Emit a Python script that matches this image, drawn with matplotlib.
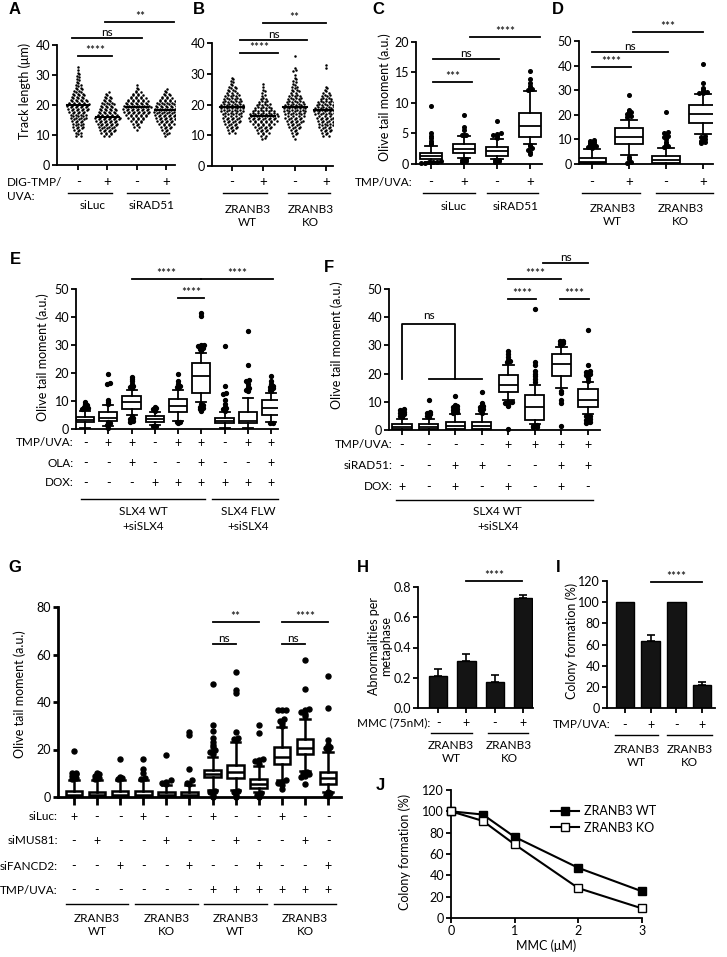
import numpy as np
import matplotlib
matplotlib.use('Agg')
import matplotlib.pyplot as plt
from matplotlib.transforms import blended_transform_factory
from matplotlib.lines import Line2D

plt.rcParams['font.family'] = ['Lato', 'DejaVu Sans']

# ---------------- DATA ----------------
# Panel A / B : track length swarm (counts per 1-um bin, first bin value)
A_start = [10, 10, 12, 10]
A_counts = [
    [3, 3, 4, 5, 5, 6, 7, 7, 8, 9, 10, 8, 7, 6, 5, 4, 3, 3, 2, 2, 2, 1, 1, 1],
    [4, 6, 7, 8, 9, 10, 11, 9, 8, 7, 6, 5, 4, 3, 2],
    [1, 3, 4, 6, 8, 10, 11, 12, 11, 10, 8, 6, 4, 2, 1, 1],
    [2, 3, 4, 5, 7, 8, 9, 10, 11, 10, 9, 8, 6, 4, 3, 2],
]
A_means = [20.0, 16.0, 19.3, 18.2]
B_start = [11, 9, 9, 10]
B_counts = [
    [3, 4, 5, 6, 7, 8, 8, 9, 9, 9, 8, 7, 6, 5, 4, 3, 2, 2, 1],
    [2, 3, 5, 6, 7, 9, 11, 12, 11, 9, 7, 6, 4, 3, 2, 2, 1, 1, 1],
    [1, 2, 3, 4, 5, 6, 7, 8, 8, 9, 9, 8, 7, 6, 5, 4, 3, 3, 2, 2, 1, 1, 2, 1, 0, 0, 0, 1],
    [3, 4, 5, 6, 6, 7, 8, 9, 10, 9, 8, 7, 5, 4, 3, 2, 1, 0, 0, 0, 0, 0, 1, 1],
]
B_means = [19.2, 16.2, 19.3, 18.2]
AB_treat = ['-', '+', '-', '+']

# Panel C: box stats (whislo, q1, med, q3, whishi) and outliers
C_stats = [(0.3, 0.9, 1.3, 1.8, 2.9), (1.0, 1.8, 2.4, 3.3, 4.6),
           (0.8, 1.3, 2.1, 2.8, 4.1), (3.2, 4.4, 6.3, 8.4, 12.0)]
C_fliers = [[3.2, 3.5, 3.8, 4.2, 4.6, 5.0, 9.5, 0.2, 0.2, 0.3, 0.3, 0.4, 0.5],
            [4.7, 4.7, 4.8, 5.5, 6.0, 8.0, 0.3, 0.5, 0.7, 0.8, 0.9],
            [4.3, 4.6, 4.8, 4.9, 5.0, 7.0, 0.3, 0.5, 0.6, 0.7],
            [12.1, 12.3, 12.5, 12.8, 13.2, 14.0, 15.2, 1.7, 2.0, 2.3, 2.6, 2.9, 3.1]]

# Panel D
D_stats = [(0.0, 0.3, 1.0, 2.5, 6.0), (3.5, 8.0, 11.0, 14.5, 18.0),
           (0.0, 0.5, 1.5, 3.2, 6.5), (12.0, 16.5, 20.3, 24.0, 28.5)]
D_fliers = [[6.5, 7.0, 7.2, 7.5, 8.0, 8.3, 8.5, 9.0, 9.5, 9.8],
            [19.0, 19.5, 20.0, 20.5, 21.0, 21.5, 22.0, 28.0, 0.5, 1.0, 2.0, 3.0],
            [7.0, 7.5, 8.0, 9.0, 10.0, 10.5, 11.0, 11.5, 12.0, 12.5, 13.0, 21.0],
            [28.7, 29.0, 29.2, 29.5, 30.0, 31.0, 33.0, 40.5, 8.5, 9.0, 9.5, 10.0, 10.5, 11.0, 11.5]]

# Panel E
E_stats = [(0.5, 2.5, 3.2, 4.2, 6.5), (1.0, 2.8, 4.0, 6.0, 8.5), (5.0, 7.0, 9.5, 11.8, 14.0),
           (1.5, 2.5, 3.5, 4.5, 6.0), (3.0, 6.0, 8.2, 10.8, 14.0), (9.5, 13.0, 19.0, 23.5, 27.0),
           (0.5, 2.0, 3.0, 4.0, 6.0), (0.5, 2.0, 3.0, 6.0, 11.0), (2.5, 5.0, 7.5, 10.3, 13.0)]
E_fliers = [[7.0, 7.5, 7.5, 8.0, 8.5, 9.0, 9.5],
            [8.8, 9.5, 10.5, 16.0, 16.5, 19.5, 0.5, 1.5, 2.0, 2.5],
            [14.5, 15.0, 15.5, 16.0, 17.0, 18.0, 18.5, 2.5, 3.0, 3.5, 4.0, 4.5],
            [6.5, 7.0, 7.5, 8.0, 1.0, 1.2],
            [14.5, 15.0, 15.5, 16.0, 17.0, 19.5, 2.0, 2.5, 2.5],
            [28.0, 28.5, 29.0, 29.5, 30.0, 30.0, 40.5, 41.5, 6.5, 7.0, 7.5, 8.0, 8.5, 9.0],
            [6.5, 7.0, 7.5, 8.0, 9.0, 10.5, 12.5, 13.0, 15.5, 29.5],
            [13.5, 14.0, 14.5, 15.0, 16.0, 17.0, 17.5, 23.0, 35.0],
            [13.5, 14.0, 14.5, 15.0, 15.5, 16.0, 17.0, 19.0, 2.0, 2.2]]
E_tmp = ['-', '+', '+', '-', '+', '+', '-', '+', '+']
E_ola = ['-', '-', '+', '-', '-', '+', '-', '-', '+']
E_dox = ['-', '-', '-', '+', '+', '+', '+', '+', '+']

# Panel F
F_stats = [(0.0, 0.3, 1.0, 2.0, 4.0), (0.0, 0.3, 1.0, 2.0, 4.0), (0.0, 0.5, 1.5, 3.0, 5.5),
           (0.0, 0.5, 1.5, 3.0, 5.5), (10.5, 13.5, 16.0, 19.5, 23.0), (2.0, 3.5, 8.0, 12.5, 16.0),
           (15.0, 19.0, 23.5, 27.0, 29.5), (5.5, 8.0, 10.5, 14.5, 17.0)]
F_fliers = [[4.5, 5.0, 5.5, 6.0, 6.5, 7.0, 7.5],
            [4.5, 5.0, 5.5, 6.0, 6.5, 10.5],
            [6.0, 6.5, 7.0, 7.5, 8.0, 8.5, 9.0, 12.0],
            [6.0, 7.0, 7.5, 8.0, 8.5, 9.0, 9.5, 13.5],
            [24.0, 24.5, 25.0, 26.0, 27.0, 28.0, 8.5, 9.0, 9.5, 10.0, 10.0, 0.5],
            [17.0, 18.0, 19.0, 20.0, 21.0, 23.0, 24.0, 43.0, 1.0, 1.2, 1.5, 1.8],
            [30.0, 30.5, 31.0, 31.5, 31.5, 14.0, 13.0, 10.5, 9.5, 1.5],
            [17.5, 18.5, 19.5, 20.0, 20.5, 21.0, 23.0, 35.5, 2.5, 3.0, 3.5, 4.0, 4.5, 5.0, 5.0]]
F_tmp = ['-', '-', '-', '-', '+', '+', '+', '+']
F_rad = ['-', '-', '+', '+', '-', '-', '+', '+']
F_dox = ['+', '-', '+', '-', '+', '-', '+', '-']

# Panel G
G_stats = [(0, 0.3, 1, 2.5, 7), (0, 0.3, 1, 2, 7), (0, 0.3, 1, 2.5, 7), (0, 0.3, 1, 2.5, 7),
           (0, 0.3, 1, 2, 5), (0, 0.3, 1, 2, 5), (3, 8.5, 9.5, 11.5, 17), (3, 8, 10.5, 13.5, 23),
           (2, 4, 5.5, 7.5, 13), (7, 14, 17, 21, 29.5), (11, 18, 20.5, 24.5, 33), (2, 5.5, 8, 10.5, 19)]
G_fliers = [[7.5, 8, 9, 9.5, 10, 10, 19.5],
            [7.5, 8, 9, 9.5, 10],
            [7.5, 8, 8.5, 16],
            [7.5, 8, 10, 12, 16],
            [5.5, 6, 6.5, 7, 17.5],
            [5.5, 6, 7, 12, 26, 27.5],
            [18, 19, 20, 21, 22, 23, 25, 28, 30.5, 47.5, 0, 1, 2, 2.5],
            [24, 24.5, 25, 27.5, 44, 45, 52.5, 0, 1, 2, 2.5],
            [14, 15, 15.5, 16, 27, 30.5, 0, 1, 1.5],
            [30, 31, 32, 33, 36.5, 36.5, 36.5, 3.5, 5, 6, 6.5, 7],
            [34, 35, 36, 36.5, 37, 45.5, 57.5, 5.5, 8.5, 9, 9.5, 10, 10.5],
            [20, 20.5, 21, 22, 24, 37.5, 51, 0.5, 1, 1.5, 2]]
G_luc = ['+', '-', '-', '+', '-', '-', '+', '-', '-', '+', '-', '-']
G_mus = ['-', '+', '-', '-', '+', '-', '-', '+', '-', '-', '+', '-']
G_fan = ['-', '-', '+', '-', '-', '+', '-', '-', '+', '-', '-', '+']
G_tmp = ['-', '-', '-', '-', '-', '-', '+', '+', '+', '+', '+', '+']

# Panel H / I bars
H_vals = [0.21, 0.31, 0.17, 0.73]
H_err = [0.05, 0.05, 0.05, 0.02]
I_vals = [100, 63, 100, 22]
I_err = [0, 6, 0, 3]
HI_treat = ['-', '+', '-', '+']

# Panel J
J_mmc = [0, 0.5, 1, 2, 3]
J_wt = [100, 97, 76, 47, 25]
J_ko = [100, 91, 69, 28, 9]

# ---------------- LAYOUT HELPERS ----------------
W, H = 727, 957
fig = plt.figure(figsize=(W / 100, H / 100), dpi=100)
LW = 1.3
FT = 9      # tick labels
FL = 9      # axis labels
FR = 8.5    # row labels
FG = 8.5    # group labels
FPM = 9     # +/- signs


def add_ax(l, t, r, b):
    return fig.add_axes([l / W, 1 - b / H, (r - l) / W, (b - t) / H])


def style(ax, lw=LW, fs=FT):
    for s in ['top', 'right']:
        ax.spines[s].set_visible(False)
    for s in ['left', 'bottom']:
        ax.spines[s].set_linewidth(lw)
    ax.tick_params(width=lw, length=3.5, labelsize=fs, pad=1.5)
    ax.patch.set_alpha(0)


def ftext(x, y, s, **kw):
    kw.setdefault('va', 'center')
    fig.text(x / W, 1 - y / H, s, **kw)


def ctext(ax, x, y, s, fs=FG, **kw):
    tr = blended_transform_factory(ax.transData, fig.transFigure)
    ax.text(x, 1 - y / H, s, transform=tr, ha='center', va='center', fontsize=fs,
            clip_on=False, **kw)


def cline(ax, x0, x1, y, lw=1.0):
    tr = blended_transform_factory(ax.transData, fig.transFigure)
    ax.add_line(Line2D([x0, x1], [1 - y / H] * 2, transform=tr, color='k', lw=lw,
                       clip_on=False))


def sig(ax, x0, x1, y, label, fs=8.5):
    ax.plot([x0, x1], [y, y], color='k', lw=LW, clip_on=False)
    ax.text((x0 + x1) / 2, y, label, ha='center', va='bottom', fontsize=fs, clip_on=False)


def spread(vals, binsize, step):
    vals = np.asarray(vals, float)
    keys = np.round(vals / binsize).astype(int)
    offs = np.zeros(len(vals))
    for k in np.unique(keys):
        idx = np.where(keys == k)[0]
        n = len(idx)
        offs[idx] = (np.arange(n) - (n - 1) / 2) * step
    return offs


def boxes(ax, stats, fliers, width, lw, ms, binsize, step):
    st = [dict(whislo=s[0], q1=s[1], med=s[2], q3=s[3], whishi=s[4], fliers=[]) for s in stats]
    pos = list(range(1, len(st) + 1))
    ax.bxp(st, positions=pos, widths=width, showfliers=False, patch_artist=True,
           boxprops=dict(facecolor='white', edgecolor='k', lw=lw),
           medianprops=dict(color='k', lw=lw), whiskerprops=dict(color='k', lw=lw),
           capprops=dict(color='k', lw=lw), capwidths=width * 0.55, manage_ticks=False)
    for i, fl in enumerate(fliers):
        xo = spread(fl, binsize, step)
        ax.plot(i + 1 + xo, fl, 'o', color='k', ms=ms, ls='none', clip_on=False, zorder=3)


def swarm(ax, pos, start, counts, dx=0.085):
    xs, ys = [], []
    for j, n in enumerate(counts):
        v = start + j
        for k in range(n):
            xs.append(pos + (k - (n - 1) / 2) * dx)
            ys.append(v + (0.25 if k % 2 else -0.25))
    ax.plot(xs, ys, 'o', ms=1.8, color='k', ls='none', mew=0)


def letter(x, y, s):
    ftext(x, y, s, ha='center', fontsize=12, fontweight='bold', family='Liberation Sans')


# ---------------- PANEL A ----------------
axA = add_ax(57, 45, 175, 165)
style(axA)
for i in range(4):
    swarm(axA, i + 1, A_start[i], A_counts[i])
    axA.plot([i + 1 - 0.38, i + 1 + 0.38], [A_means[i]] * 2, color='k', lw=1.5)
axA.set_xlim(0.28, 4.3)
axA.set_ylim(0, 40)
axA.set_yticks([0, 10, 20, 30, 40])
axA.set_xticks([1, 2, 3, 4])
axA.set_xticklabels([])
sig(axA, 1.0, 2.14, 36.3, '****')
sig(axA, 0.79, 3.17, 42.3, 'ns')
sig(axA, 1.93, 4.28, 47.7, '**')
for i, t in enumerate(AB_treat):
    ctext(axA, i + 1, 182, t, fs=FPM + 0.5)
ftext(7, 182, 'DIG-TMP/', fontsize=FR)
ftext(7, 196, 'UVA:', fontsize=FR)
cline(axA, 0.67, 2.17, 193)
cline(axA, 2.67, 4.1, 193)
ctext(axA, 1.5, 206, 'siLuc')
ctext(axA, 3.5, 206, 'siRAD51')
ftext(25, 91, 'Track length (\u03bcm)', rotation=90, ha='center', fontsize=FL)

# ---------------- PANEL B ----------------
axB = add_ax(212, 43, 333, 166)
style(axB)
for i in range(4):
    swarm(axB, i + 1, B_start[i], B_counts[i])
    axB.plot([i + 1 - 0.38, i + 1 + 0.38], [B_means[i]] * 2, color='k', lw=1.5)
axB.set_xlim(0.36, 4.22)
axB.set_ylim(0, 40)
axB.set_yticks([0, 10, 20, 30, 40])
axB.set_xticks([1, 2, 3, 4])
axB.set_xticklabels([])
sig(axB, 1.26, 2.45, 36.7, '****')
sig(axB, 1.26, 3.39, 41.0, 'ns')
sig(axB, 2.0, 4.0, 46.5, '**')
for i, t in enumerate(AB_treat):
    ctext(axB, i + 1, 182, t, fs=FPM + 0.5)
cline(axB, 0.7, 2.13, 193)
cline(axB, 2.8, 4.13, 193)
ctext(axB, 1.5, 216, 'ZRANB3\nWT', linespacing=1.3)
ctext(axB, 3.5, 216, 'ZRANB3\nKO', linespacing=1.3)

# ---------------- PANEL C ----------------
axC = add_ax(416, 42, 542, 164)
style(axC)
boxes(axC, C_stats, C_fliers, 0.65, LW, 2.6, 0.35, 0.12)
axC.set_xlim(0.55, 4.36)
axC.set_ylim(0, 20)
axC.set_yticks([0, 5, 10, 15, 20])
axC.set_xticks([1, 2, 3, 4])
axC.set_xticklabels([])
sig(axC, 1.06, 2.24, 13.4, '***')
sig(axC, 1.06, 3.06, 17.2, 'ns')
sig(axC, 2.18, 4.3, 20.8, '****')
ftext(413, 182, 'TMP/UVA:', ha='right', fontsize=FR)
for i, t in enumerate(AB_treat):
    ctext(axC, i + 1, 182, t, fs=FPM + 0.5)
cline(axC, 0.76, 2.33, 193)
cline(axC, 2.7, 4.24, 193)
ctext(axC, 1.7, 207, 'siLuc')
ctext(axC, 3.55, 207, 'siRAD51')
ftext(385, 97, 'Olive tail moment (a.u.)', rotation=90, ha='center', fontsize=FL)

# ---------------- PANEL D ----------------
axD = add_ax(579, 41, 713, 164)
style(axD)
boxes(axD, D_stats, D_fliers, 0.75, LW, 2.6, 0.8, 0.12)
axD.set_xlim(0.65, 4.27)
axD.set_ylim(0, 50)
axD.set_yticks([0, 10, 20, 30, 40, 50])
axD.set_xticks([1, 2, 3, 4])
axD.set_xticklabels([])
sig(axD, 1.0, 2.05, 39.4, '****')
sig(axD, 1.0, 3.06, 45.5, 'ns')
sig(axD, 2.1, 4.0, 53.7, '***')
for i, t in enumerate(AB_treat):
    ctext(axD, i + 1, 182, t, fs=FPM + 0.5)
cline(axD, 0.73, 2.3, 193)
cline(axD, 2.73, 4.27, 193)
ctext(axD, 1.55, 215, 'ZRANB3\nWT', linespacing=1.3)
ctext(axD, 3.4, 215, 'ZRANB3\nKO', linespacing=1.3)

# ---------------- PANEL E ----------------
axE = add_ax(76, 289, 278, 429)
style(axE)
boxes(axE, E_stats, E_fliers, 0.78, LW, 2.8, 0.9, 0.13)
axE.set_xlim(0.61, 9.3)
axE.set_ylim(0, 50)
axE.set_yticks([0, 10, 20, 30, 40, 50])
axE.set_xticks(range(1, 10))
axE.set_xticklabels([])
sig(axE, 3.0, 6.0, 53.6, '****')
sig(axE, 6.0, 9.1, 53.6, '****')
sig(axE, 5.0, 6.1, 46.8, '****')
for lab, row, y in [('TMP/UVA:', E_tmp, 443), ('OLA:', E_ola, 463), ('DOX:', E_dox, 483)]:
    ftext(74, y, lab, ha='right', fontsize=FR)
    for i, t in enumerate(row):
        ctext(axE, i + 1, y, t, fs=FPM)
cline(axE, 0.83, 6.17, 499)
cline(axE, 6.48, 9.3, 499)
ctext(axE, 3.5, 519, 'SLX4 WT\n+siSLX4', linespacing=1.45)
ctext(axE, 8.0, 519, 'SLX4 FLW\n+siSLX4', linespacing=1.45)
ftext(43, 357, 'Olive tail moment (a.u.)', rotation=90, ha='center', fontsize=FL)

# ---------------- PANEL F ----------------
axF = add_ax(389, 289, 600, 430)
style(axF)
boxes(axF, F_stats, F_fliers, 0.72, LW, 2.8, 0.9, 0.13)
axF.set_xlim(0.51, 8.45)
axF.set_ylim(0, 50)
axF.set_yticks([0, 10, 20, 30, 40, 50])
axF.set_xticks(range(1, 9))
axF.set_xticklabels([])
axF.plot([1, 1, 3, 3], [18, 37.5, 37.5, 18], color='k', lw=LW)
axF.plot([2, 4], [18, 18], color='k', lw=LW)
axF.text(2.0, 38.5, 'ns', ha='center', va='bottom', fontsize=8.5)
sig(axF, 5.0, 6.05, 46.5, '****')
sig(axF, 5.0, 7.0, 53.5, '****')
sig(axF, 6.95, 8.05, 46.5, '****')
sig(axF, 6.3, 8.0, 59.2, 'ns')
for lab, row, y in [('TMP/UVA:', F_tmp, 445), ('siRAD51:', F_rad, 466), ('DOX:', F_dox, 487)]:
    ftext(393, y, lab, ha='right', fontsize=FR)
    for i, t in enumerate(row):
        ctext(axF, i + 1, y, t, fs=FPM)
cline(axF, 0.77, 8.18, 500)
ctext(axF, 4.6, 519, 'SLX4 WT\n+siSLX4', linespacing=1.45)
ftext(337, 345, 'Olive tail moment (a.u.)', rotation=90, ha='center', fontsize=FL)

# ---------------- PANEL G ----------------
axG = add_ax(58, 607, 341, 797)
style(axG, lw=2.0)
axG.tick_params(axis='x', length=6)
boxes(axG, G_stats, G_fliers, 0.72, 1.8, 3.6, 1.3, 0.18)
axG.set_xlim(0.31, 12.56)
axG.set_ylim(0, 80)
axG.set_yticks([0, 20, 40, 60, 80])
axG.set_xticks(range(1, 13))
axG.set_xticklabels([])
sig(axG, 7.0, 9.0, 73.7, '**')
sig(axG, 7.0, 8.0, 64.4, 'ns')
sig(axG, 10.0, 12.0, 73.7, '****')
sig(axG, 10.0, 11.0, 64.4, 'ns')
for lab, row, y in [('siLuc:', G_luc, 817), ('siMUS81:', G_mus, 841),
                    ('siFANCD2:', G_fan, 866), ('TMP/UVA:', G_tmp, 890)]:
    ftext(58, y, lab, ha='right', fontsize=FR)
    for i, t in enumerate(row):
        ctext(axG, i + 1, y, t, fs=FPM)
for g, lab in enumerate(['ZRANB3\nWT', 'ZRANB3\nKO', 'ZRANB3\nWT', 'ZRANB3\nKO']):
    c0 = 3 * g + 1
    cline(axG, c0 - 0.35, c0 + 2 + 0.35, 904)
    ctext(axG, c0 + 1, 925, lab, linespacing=1.3)
ftext(20, 694, 'Olive tail moment (a.u.)', rotation=90, ha='center', fontsize=FL)

# ---------------- PANEL H ----------------
axH = add_ax(418, 587, 533, 708)
style(axH)
xs = np.arange(1, 5)
axH.bar(xs, H_vals, width=0.65, color='#141414', edgecolor='k')
axH.errorbar(xs, H_vals, yerr=[np.zeros(4), H_err], fmt='none', ecolor='k', elinewidth=1.2,
             capsize=3, capthick=1.2)
axH.set_xlim(0.29, 4.35)
axH.set_ylim(0, 0.8)
axH.set_yticks([0.0, 0.2, 0.4, 0.6, 0.8])
axH.set_yticklabels(['0.0', '0.2', '0.4', '0.6', '0.8'])
axH.set_xticks(xs)
axH.set_xticklabels([])
sig(axH, 2.0, 3.95, 0.84, '****')
ftext(430, 723, 'MMC (75nM):', ha='right', fontsize=FR)
for i, t in enumerate(HI_treat):
    ctext(axH, i + 1, 723, t, fs=FPM)
cline(axH, 0.75, 2.2, 733)
cline(axH, 2.75, 4.18, 733)
ctext(axH, 1.45, 752, 'ZRANB3\nWT', linespacing=1.3)
ctext(axH, 3.5, 752, 'ZRANB3\nKO', linespacing=1.3)
ftext(380, 646, 'Abnormalities per\nmetaphase', rotation=90, ha='center', fontsize=FL,
      linespacing=1.1)

# ---------------- PANEL I ----------------
axI = add_ax(607, 581, 715, 708)
style(axI)
axI.bar(xs, I_vals, width=0.72, color='#141414', edgecolor='k')
axI.errorbar(xs[[1, 3]], np.array(I_vals)[[1, 3]], yerr=[[0, 0], np.array(I_err)[[1, 3]]],
             fmt='none', ecolor='k', elinewidth=1.2, capsize=3, capthick=1.2)
axI.set_xlim(0.3, 4.5)
axI.set_ylim(0, 120)
axI.set_yticks([0, 20, 40, 60, 80, 100, 120])
axI.set_xticks(xs)
axI.set_xticklabels([])
sig(axI, 2.0, 4.0, 119, '****')
ftext(611, 725, 'TMP/UVA:', ha='right', fontsize=FR)
for i, t in enumerate(HI_treat):
    ctext(axI, i + 1, 725, t, fs=FPM)
cline(axI, 0.6, 2.27, 735)
cline(axI, 2.65, 4.4, 735)
ctext(axI, 1.45, 756, 'ZRANB3\nWT', linespacing=1.3)
ctext(axI, 3.5, 756, 'ZRANB3\nKO', linespacing=1.3)
ftext(572, 641, 'Colony formation (%)', rotation=90, ha='center', fontsize=FL)

# ---------------- PANEL J ----------------
axJ = add_ax(451, 790, 642, 918)
style(axJ)
lw_wt, = axJ.plot(J_mmc, J_wt, '-s', color='k', lw=1.5, ms=6, mfc='k', mec='k',
                  clip_on=False, label='ZRANB3 WT', zorder=3)
lw_ko, = axJ.plot(J_mmc, J_ko, '-s', color='k', lw=1.5, ms=6, mfc='white', mec='k',
                  clip_on=False, label='ZRANB3 KO', zorder=4)
axJ.set_xlim(0, 3)
axJ.set_ylim(0, 120)
axJ.set_yticks([0, 20, 40, 60, 80, 100, 120])
axJ.set_xticks([0, 1, 2, 3])
axJ.set_xlabel('MMC (\u03bcM)', fontsize=FL, labelpad=2)
axJ.legend(handles=[lw_wt, lw_ko], loc='upper left', bbox_to_anchor=(545 / W, 1 - 799 / H),
           bbox_transform=fig.transFigure, frameon=False, fontsize=FL, handlelength=2.2,
           handletextpad=0.4, borderpad=0, labelspacing=0.35)
ftext(405, 852, 'Colony formation (%)', rotation=90, ha='center', fontsize=FL)

# ---------------- LETTERS ----------------
for s, x, y in [('A', 15, 10), ('B', 199, 10), ('C', 378, 9), ('D', 558, 9), ('E', 15, 260),
                ('F', 329, 267), ('G', 15, 567), ('H', 363, 567), ('I', 558, 567),
                ('J', 380, 785)]:
    letter(x, y, s)

fig.savefig('out.png', dpi=100)
